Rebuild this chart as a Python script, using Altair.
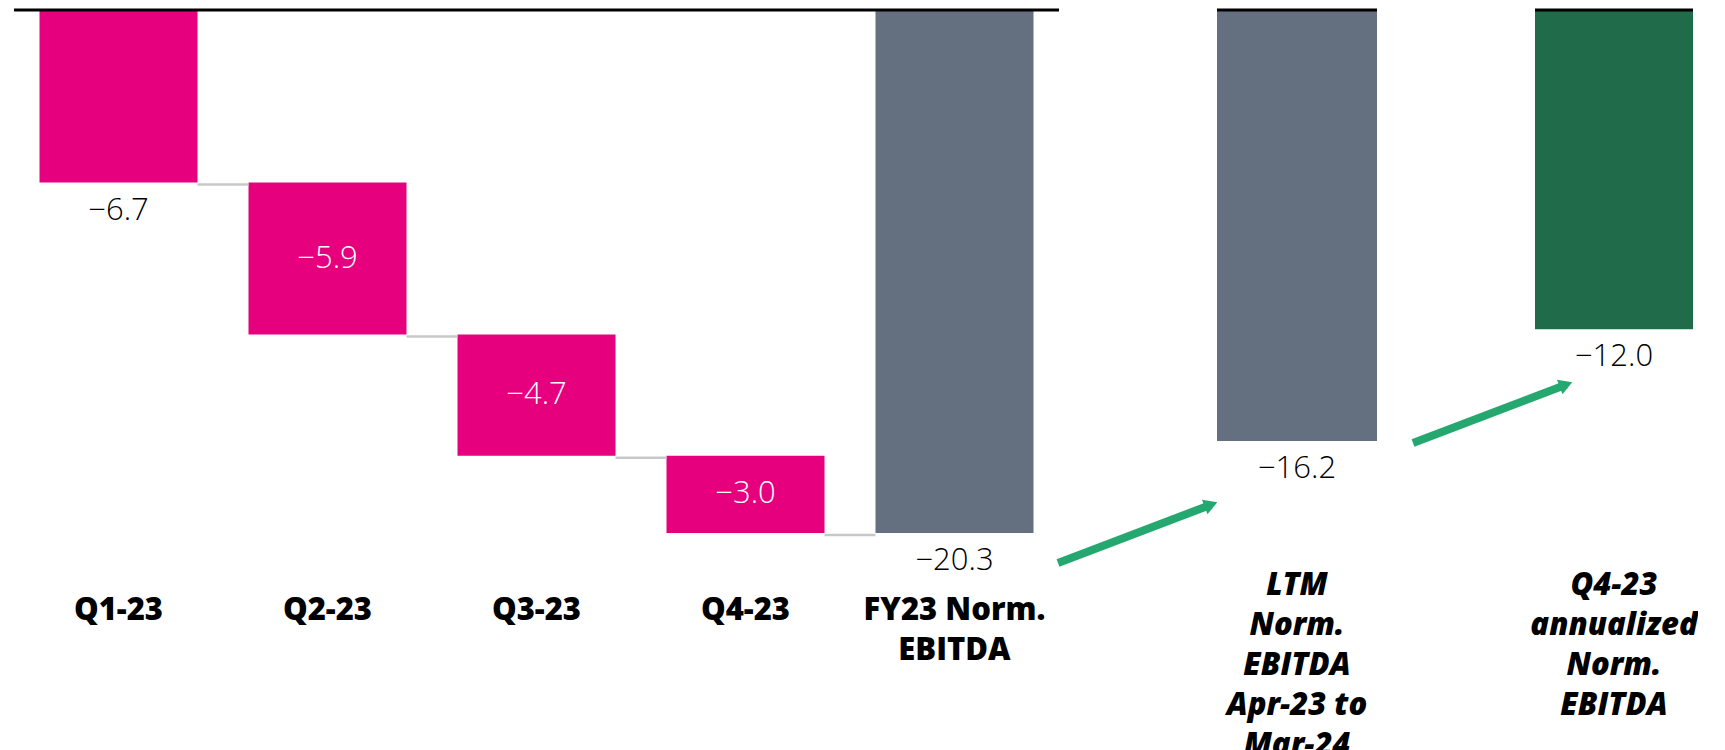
import altair as alt
import pandas as pd

# ---------------- data ----------------
quarters = ["Q1-23", "Q2-23", "Q3-23", "Q4-23"]
quarter_values = [-6.7, -5.9, -4.7, -3.0]
total_label = "FY23 Norm.|EBITDA"
total_value = -20.3
ltm_label = "LTM|Norm.|EBITDA|Apr-23 to|Mar-24"
ltm_value = -16.2
ann_label = "Q4-23|annualized|Norm.|EBITDA"
ann_value = -12.0

FONT = "Open Sans"
MAGENTA = "#E6007E"
GRAY = "#64707F"
GREEN = "#1F6B4A"
ARROW = "#24A870"

NUM_SIZE = 31
CAT_SIZE = 31
H = 560

# waterfall table
rows = []
run = 0.0
for c, v in zip(quarters, quarter_values):
    rows.append(dict(cat=c, start=run, end=round(run + v, 2), value=v, kind="step"))
    run = round(run + v, 2)
rows.append(dict(cat=total_label, start=0.0, end=total_value, value=total_value, kind="total"))
wf = pd.DataFrame(rows)
wf["mid"] = (wf["start"] + wf["end"]) / 2
cats = list(wf["cat"])
labels_below = ["Q1-23", total_label]
wf["below"] = wf["cat"].isin(labels_below)

conn = pd.DataFrame({"cat": cats[:-1], "next": cats[1:], "level": list(wf["end"])[:-1]})


def x_axis(pad, italic=False, line_height=40.5):
    kw = dict(title=None, labelAngle=0, ticks=False, tickSize=0, domain=False, grid=False,
              labelFont=FONT, labelFontSize=CAT_SIZE, labelFontWeight=800,
              labelColor="black", labelPadding=pad, labelLineHeight=line_height,
              labelExpr="split(datum.label, '|')", labelLimit=400, labelBaseline="top")
    if italic:
        kw["labelFontStyle"] = "italic"
    return alt.Axis(**kw)


# ---------------- panel 1: waterfall ----------------
xs1 = alt.Scale(domain=cats, paddingInner=0.244, paddingOuter=0.122)
ys1 = alt.Scale(domain=[-21.74, 0], nice=False, zero=False)

base1 = alt.Chart(wf)
bars1 = base1.mark_bar().encode(
    x=alt.X("cat:N", scale=xs1, axis=x_axis(25), sort=cats),
    y=alt.Y("start:Q", scale=ys1, axis=None),
    y2="end:Q",
    color=alt.Color("kind:N", scale=alt.Scale(domain=["step", "total"], range=[MAGENTA, GRAY]), legend=None),
)
conn_rules = alt.Chart(conn).mark_rule(color="#C8C8C8", strokeWidth=2.5, yOffset=2).encode(
    x=alt.X("cat:N", scale=xs1, bandPosition=1),
    x2=alt.X2("next", bandPosition=0),
    y=alt.Y("level:Q", scale=ys1),
)
txt_below1 = base1.transform_filter("datum.below").mark_text(
    font=FONT, fontSize=NUM_SIZE, fontWeight=300, color="black", baseline="middle", dy=28
).encode(
    x=alt.X("cat:N", scale=xs1, bandPosition=0.5),
    y=alt.Y("end:Q", scale=ys1),
    text=alt.Text("value:Q", format=".1f"),
)
txt_inside1 = base1.transform_filter("!datum.below").mark_text(
    font=FONT, fontSize=NUM_SIZE, fontWeight=300, color="white", baseline="middle"
).encode(
    x=alt.X("cat:N", scale=xs1, bandPosition=0.5),
    y=alt.Y("mid:Q", scale=ys1),
    text=alt.Text("value:Q", format=".1f"),
)
zero1 = alt.Chart(pd.DataFrame({"z": [0.0]})).mark_rule(color="black", strokeWidth=3).encode(
    y=alt.Y("z:Q", scale=ys1))

panel1 = alt.layer(bars1, conn_rules, txt_below1, txt_inside1, zero1).properties(width=1045, height=H)


# ---------------- single-bar panels ----------------
ys2 = alt.Scale(domain=[-21.05, 0], nice=False, zero=False)


def single_panel(label, value, color, width, arrow):
    d = pd.DataFrame({"cat": [label], "start": [0.0], "value": [value]})
    xs = alt.Scale(domain=[label], paddingInner=0, paddingOuter=0)
    base = alt.Chart(d)
    bar = base.mark_bar(color=color).encode(
        x=alt.X("cat:N", scale=xs, axis=x_axis(0, italic=True, line_height=40)),
        y=alt.Y("start:Q", scale=ys2, axis=None),
        y2="value:Q",
    )
    txt = base.mark_text(font=FONT, fontSize=NUM_SIZE, fontWeight=300, color="black",
                         baseline="middle", dy=28).encode(
        x=alt.X("cat:N", scale=xs, bandPosition=0.5),
        y=alt.Y("value:Q", scale=ys2),
        text=alt.Text("value:Q", format=".1f"),
    )
    zero = base.mark_rule(color="black", strokeWidth=3).encode(y=alt.Y("start:Q", scale=ys2))
    (tx, ty), (cx, cy) = arrow
    shaft = base.mark_rule(color=ARROW, strokeWidth=8, strokeCap="butt").encode(
        x=alt.value(tx), y=alt.value(ty), x2=alt.value(cx), y2=alt.value(cy))
    head = base.mark_point(shape="triangle-right", filled=True, size=240, color=ARROW,
                           opacity=1, angle=339).encode(x=alt.value(cx), y=alt.value(cy))
    return alt.layer(bar, zero, txt, shaft, head).properties(width=width, height=H)


panel2 = single_panel(ltm_label, ltm_value, GRAY, 160, ((-159, 553), (-6, 494.7)))
panel3 = single_panel(ann_label, ann_value, GREEN, 158, ((-122, 433), (31, 374.7)))

chart = alt.hconcat(panel1, panel2, panel3, spacing=158, bounds="flush").properties(
    padding={"left": 4, "top": 0, "right": 0, "bottom": 0}
).configure_view(strokeWidth=0)

chart.save("out.html", embed_options={"renderer": "svg", "actions": False})
